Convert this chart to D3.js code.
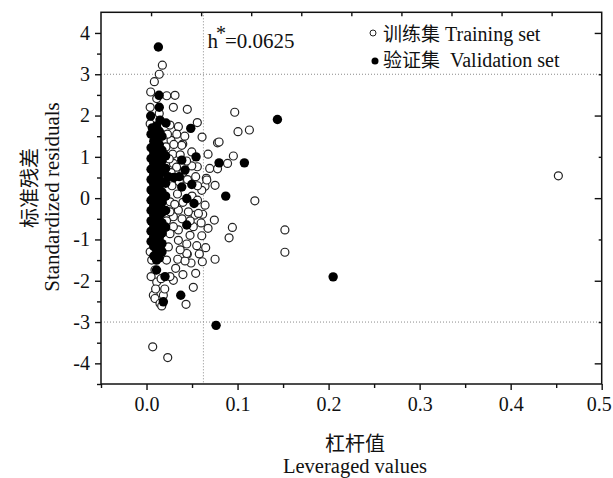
<!DOCTYPE html>
<html>
<head>
<meta charset="utf-8">
<script src="https://cdn.jsdelivr.net/npm/d3@7"></script>
<style>
  body { margin: 0; background: #fff; }
  svg { display: block; }
  text { font-family: "Liberation Serif", "Times New Roman", serif; fill: #111; }
  .cjk { font-family: "Noto Sans CJK SC", sans-serif; }
</style>
</head>
<body>
<div id="app"></div>
<script>
// training set (open circles): [leverage, standardized residual]
let trainingPoints = [
  [0.0174,3.22],[0.014,3.00],[0.0086,2.82],[0.0046,2.57],[0.0112,2.41],[0.0222,2.48],[0.0313,2.49],
  [0.0295,2.20],[0.0448,2.15],[0.0969,2.08],[0.014,2.05],[0.0258,1.77],[0.035,1.73],[0.0558,1.83],
  [0.1005,1.61],[0.113,1.65],[0.0185,1.53],[0.0269,1.40],[0.0332,1.55],[0.0398,1.31],[0.061,1.48],
  [0.078,1.34],[0.0797,1.36],[0.0497,1.12],[0.0676,1.065],[0.089,0.84],[0.0954,1.02],[0.0288,1.065],
  [0.0214,1.24],[0.0295,0.84],[0.042,1.50],[0.0387,1.28],[0.0694,0.72],[0.078,0.71],[0.0558,0.76],
  [0.0657,0.48],[0.0643,0.29],[0.054,0.52],[0.0497,0.78],[0.0753,0.31],[0.0662,0.44],[0.0607,0.19],
  [0.0643,-0.17],[0.0617,-0.39],[0.0745,-0.53],[0.0676,-0.73],[0.0943,-0.71],[0.0907,-0.96],
  [0.119,-0.065],[0.152,-0.77],[0.152,-1.31],[0.4524,0.54],[0.0753,-1.48],[0.0613,-1.54],
  [0.054,-1.82],[0.0514,-2.16],[0.0434,-2.57],[0.0514,-0.69],[0.0478,-0.90],[0.0552,-1.15],
  [0.0448,-1.36],[0.0489,-1.57],[0.0607,-0.91],[0.0533,-0.41],[0.057,-0.37],[0.035,-0.29],
  [0.0295,-0.45],[0.046,-0.33],[0.035,-0.77],[0.0258,-0.09],[0.0258,-0.33],[0.0295,-0.69],
  [0.0258,-0.86],[0.0185,-0.73],[0.0343,-1.48],[0.0423,-1.52],[0.0442,-1.34],[0.0442,-1.11],
  [0.035,-1.02],[0.024,-1.18],[0.0057,-1.50],[0.0093,-1.74],[0.0112,-2.03],[0.0295,-1.99],
  [0.0258,-1.90],[0.0075,-2.35],[0.0093,-2.43],[0.0148,-2.55],[0.0167,-2.61],[0.0185,-2.35],
  [0.0068,-3.60],[0.0233,-3.86],
  [0.025,0.95],[0.033,0.75],[0.040,0.62],[0.028,0.30],[0.034,0.10],[0.040,-0.10],[0.031,-0.15],
  [0.036,0.40],[0.045,0.45],[0.050,0.05],[0.056,-0.05],[0.048,-0.55],[0.039,-0.50],[0.022,-0.55],
  [0.027,0.62],[0.020,1.05],[0.023,1.55],[0.030,1.30],[0.037,1.05],[0.044,0.90],[0.056,0.30],
  [0.060,-0.60],[0.065,-1.20],[0.058,-1.35],[0.037,-1.25],[0.032,-1.70],[0.040,-1.85],[0.022,-1.50],
  [0.016,-1.95],[0.010,-2.20],[0.020,-2.20],[0.004,2.20],[0.004,1.80],[0.004,-1.30],[0.005,-1.90]
]

// validation set (filled circles)
let validationPoints = [
  [0.013,3.66],[0.0137,2.49],[0.0046,1.99],[0.0148,1.89],[0.0214,1.82],[0.0064,1.70],[0.0093,1.51],
  [0.0486,1.69],[0.0544,1.00],[0.0797,0.855],[0.1075,0.855],[0.1438,1.905],[0.087,0.05],
  [0.0387,0.92],[0.0423,0.68],[0.0387,0.27],[0.0497,0.33],[0.0442,-0.01],[0.0522,-0.13],
  [0.0442,-0.65],[0.0203,-1.90],[0.0376,-2.35],[0.0185,-2.51],[0.0764,-3.08],[0.205,-1.905],
  [0.024,0.52],[0.030,0.50],[0.036,0.52],
  [0.005,1.55],[0.005,1.22],[0.005,0.96],[0.005,0.70],[0.005,0.45],[0.005,0.20],[0.005,-0.05],
  [0.005,-0.30],[0.005,-0.55],[0.005,-0.80],[0.005,-1.05],
  [0.008,1.38],[0.008,1.10],[0.008,0.84],[0.008,0.58],[0.008,0.33],[0.008,0.08],[0.008,-0.17],
  [0.008,-0.42],[0.008,-0.67],[0.008,-0.92],[0.008,-1.17],[0.008,-1.40],
  [0.011,1.75],[0.011,1.45],[0.011,1.20],[0.011,0.95],[0.011,0.72],[0.011,0.48],[0.011,0.24],
  [0.011,0.00],[0.011,-0.26],[0.011,-0.50],[0.011,-0.76],[0.011,-1.00],[0.011,-1.25],[0.011,-1.50],[0.011,-1.74],
  [0.014,2.20],[0.014,1.62],[0.014,1.30],[0.014,1.05],[0.014,0.80],[0.014,0.55],[0.014,0.30],
  [0.014,0.07],[0.014,-0.18],[0.014,-0.43],[0.014,-0.70],[0.014,-0.95],[0.014,-1.20],[0.014,-1.45],
  [0.017,1.50],[0.017,1.16],[0.017,0.90],[0.017,0.63],[0.017,0.40],[0.017,0.15],[0.017,-0.10],
  [0.017,-0.35],[0.017,-0.60],[0.017,-0.85],[0.017,-1.10],[0.017,-1.30],
  [0.021,1.02],[0.021,0.72],[0.021,0.36],[0.021,0.05],[0.021,-0.30],[0.021,-0.70]
]

let hStar = 0.0625
let residualLimits = [3, -3]
let xTicks = [0, 0.1, 0.2, 0.3, 0.4, 0.5]
let xMinorTicks = [-0.05, 0.05, 0.15, 0.25, 0.35, 0.45]
let yTicks = [-4, -3, -2, -1, 0, 1, 2, 3, 4]
let yMinorTicks = [-4.5, -3.5, -2.5, -1.5, -0.5, 0.5, 1.5, 2.5, 3.5]

const width = 613
const height = 478
const plotLeft = 101, plotRight = 601.7, plotTop = 12.3, plotBottom = 384

const svg = d3.select('#app').append('svg')
  .attr('width', width)
  .attr('height', height)

const x = d3.scaleLinear().domain([-0.05, 0.5]).range([plotLeft, plotRight])
const y = d3.scaleLinear().domain([-4.5, 4.5]).range([plotBottom, plotTop])
const xTop = d3.scaleLinear().domain([0, 10]).range([plotLeft, plotRight])

// reference lines
const refs = svg.append('g')
  .attr('stroke', '#8a8a8a')
  .attr('stroke-width', 1)
  .attr('stroke-dasharray', '1,2')

refs.selectAll('line.h')
  .data(residualLimits)
  .enter()
  .append('line')
  .attr('x1', plotLeft).attr('x2', plotRight)
  .attr('y1', d => y(d)).attr('y2', d => y(d))

refs.append('line')
  .attr('x1', x(hStar)).attr('x2', x(hStar))
  .attr('y1', plotTop).attr('y2', plotBottom)

// points
svg.append('g')
  .selectAll('circle')
  .data(trainingPoints)
  .enter()
  .append('circle')
  .attr('cx', d => x(d[0]))
  .attr('cy', d => y(d[1]))
  .attr('r', 4)
  .attr('fill', '#fff')
  .attr('stroke', '#222')
  .attr('stroke-width', 1.2)

svg.append('g')
  .selectAll('circle')
  .data(validationPoints)
  .enter()
  .append('circle')
  .attr('cx', d => x(d[0]))
  .attr('cy', d => y(d[1]))
  .attr('r', 4.7)
  .attr('fill', '#000')

// axes
let styleAxis = (g) => {
  g.select('.domain').remove()
  g.selectAll('line').attr('stroke', '#111').attr('stroke-width', 1.4)
  g.selectAll('text').attr('font-size', 20).attr('fill', '#111')
    .attr('font-family', '"Liberation Serif", serif')
}

const xAxisG = svg.append('g')
  .attr('transform', `translate(0,${plotBottom})`)
  .call(d3.axisBottom(x).tickValues(xTicks).tickSize(6).tickPadding(7).tickFormat(d3.format('.1f')))
  .call(styleAxis)
// keep the last label inside the window
xAxisG.selectAll('text').filter(d => d === 0.5).attr('dx', -3)

svg.append('g')
  .attr('transform', `translate(0,${plotBottom})`)
  .call(d3.axisBottom(x).tickValues(xMinorTicks).tickSize(4).tickFormat(''))
  .call(styleAxis)

svg.append('g')
  .attr('transform', `translate(${plotLeft},0)`)
  .call(d3.axisLeft(y).tickValues(yTicks).tickSize(6).tickPadding(5).tickFormat(d => String(d)))
  .call(styleAxis)

svg.append('g')
  .attr('transform', `translate(${plotLeft},0)`)
  .call(d3.axisLeft(y).tickValues(yMinorTicks).tickSize(4).tickFormat(''))
  .call(styleAxis)

svg.append('g')
  .attr('transform', `translate(${plotRight},0)`)
  .call(d3.axisRight(y).tickValues(yTicks.filter(d => d % 2 === 0)).tickSize(-7).tickFormat(''))
  .call(styleAxis)

svg.append('g')
  .attr('transform', `translate(${plotRight},0)`)
  .call(d3.axisRight(y).tickValues(yTicks.filter(d => d % 2 !== 0)).tickSize(-3).tickFormat(''))
  .call(styleAxis)

svg.append('g')
  .attr('transform', `translate(0,${plotTop})`)
  .call(d3.axisTop(xTop).tickValues(d3.range(1, 10)).tickSize(-4).tickFormat(''))
  .call(styleAxis)

// frame
svg.append('rect')
  .attr('x', plotLeft).attr('y', plotTop)
  .attr('width', plotRight - plotLeft).attr('height', plotBottom - plotTop)
  .attr('fill', 'none')
  .attr('stroke', '#111')
  .attr('stroke-width', 1.5)

// h* label
const hLabel = svg.append('text')
  .attr('x', x(hStar) + 4)
  .attr('y', 48)
  .attr('font-size', 21)
hLabel.append('tspan').text('h')
hLabel.append('tspan').attr('dx', -2).attr('dy', -8).attr('font-size', 20).text('*')
hLabel.append('tspan').attr('dx', -1).attr('dy', 8).text('=' + hStar)

// legend
const legend = svg.append('g').attr('transform', 'translate(373,0)')
legend.append('circle').attr('cx', 0).attr('cy', 33).attr('r', 3)
  .attr('fill', '#fff').attr('stroke', '#222').attr('stroke-width', 1)
legend.append('circle').attr('cx', 2).attr('cy', 61).attr('r', 3.5).attr('fill', '#000')

const l1 = legend.append('text').attr('x', 10).attr('y', 41).attr('font-size', 20)
l1.append('tspan').attr('class', 'cjk').attr('font-size', 19).text('训练集')
l1.append('tspan').text(' Training set')
const l2 = legend.append('text').attr('x', 10).attr('y', 67).attr('font-size', 20)
l2.append('tspan').attr('class', 'cjk').attr('font-size', 19).text('验证集')
l2.append('tspan').text('\u00a0 Validation set')

// axis titles
svg.append('text')
  .attr('class', 'cjk')
  .attr('x', 355).attr('y', 451)
  .attr('text-anchor', 'middle')
  .attr('font-size', 20)
  .text('杠杆值')

svg.append('text')
  .attr('x', 355).attr('y', 473)
  .attr('text-anchor', 'middle')
  .attr('font-size', 20.5)
  .text('Leveraged values')

svg.append('text')
  .attr('class', 'cjk')
  .attr('transform', 'translate(28,188) rotate(-90)')
  .attr('text-anchor', 'middle')
  .attr('dominant-baseline', 'central')
  .attr('font-size', 20)
  .text('标准残差')

svg.append('text')
  .attr('transform', 'translate(59,197) rotate(-90)')
  .attr('text-anchor', 'middle')
  .attr('font-size', 21)
  .text('Standardized residuals')
</script>
</body>
</html>
